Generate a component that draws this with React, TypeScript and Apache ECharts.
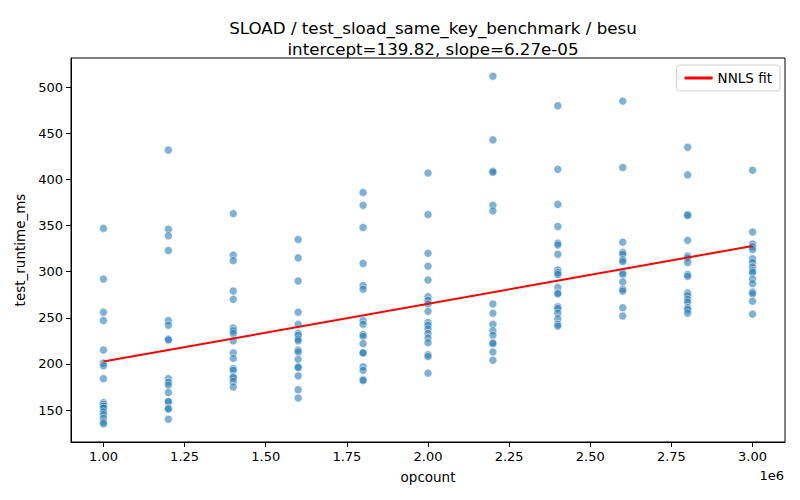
import React, { useEffect, useRef } from 'react';
import * as echarts from 'echarts';

// opcount values (x) and measured runtimes per opcount (y)
const opcounts = [1000000, 1200000, 1400000, 1600000, 1800000, 2000000, 2200000, 2400000, 2600000, 2800000, 3000000];

const runtimes1_0 = [347, 292, 256, 247, 215, 201, 198, 184, 158, 156, 154, 152, 148, 145, 141, 137, 135];
const runtimes1_2 = [432, 346, 339, 323, 247, 242, 227, 226, 184, 180, 177, 169, 159, 159, 152, 151, 140];
const runtimes1_4 = [363, 318, 312, 279, 270, 239, 236, 233, 225, 212, 206, 195, 193, 186, 185, 181, 175];
const runtimes1_6 = [335, 315, 290, 256, 243, 233, 231, 227, 225, 215, 213, 205, 197, 196, 187, 172, 163];
const runtimes1_8 = [386, 372, 348, 309, 285, 281, 247, 243, 232, 230, 222, 212, 212, 197, 193, 183, 182];
const runtimes2_0 = [407, 362, 320, 306, 291, 273, 269, 265, 257, 245, 242, 238, 233, 228, 223, 210, 208, 190];
const runtimes2_2 = [512, 443, 409, 408, 372, 366, 265, 255, 243, 236, 231, 223, 222, 213, 204];
const runtimes2_4 = [480, 411, 373, 349, 331, 329, 319, 302, 299, 297, 283, 277, 276, 262, 260, 255, 249, 243, 241];
const runtimes2_6 = [485, 413, 332, 321, 319, 313, 311, 299, 297, 289, 281, 279, 261, 252];
const runtimes2_8 = [435, 405, 362, 361, 334, 317, 315, 310, 297, 295, 277, 274, 270, 267, 261, 259, 255];
const runtimes3_0 = [410, 343, 330, 327, 324, 314, 310, 305, 301, 299, 292, 287, 278, 276, 268, 254];

const runtimesByOpcount = [
  runtimes1_0, runtimes1_2, runtimes1_4, runtimes1_6, runtimes1_8, runtimes2_0,
  runtimes2_2, runtimes2_4, runtimes2_6, runtimes2_8, runtimes3_0,
];

// NNLS fit from the title
const intercept = 139.82;
const slope = 6.27e-5;

const xTicks = [1000000, 1250000, 1500000, 1750000, 2000000, 2250000, 2500000, 2750000, 3000000];
const yTicks = [150, 200, 250, 300, 350, 400, 450, 500];

const FONT = 'DejaVu Sans';

const App: React.FC = () => {
  const chartRef = useRef<HTMLDivElement | null>(null);

  useEffect(() => {
    document.body.style.margin = '0';
    const chart = echarts.init(chartRef.current!, null, { renderer: 'svg' });

    const points: number[][] = [];
    opcounts.forEach((x, i) => {
      runtimesByOpcount[i].forEach((y) => points.push([x, y]));
    });
    const fitX = [opcounts[0], opcounts[opcounts.length - 1]];
    const fitLine = fitX.map((x) => [x, intercept + slope * x]);

    const option: echarts.EChartsOption = {
      animation: false,
      title: {
        text: 'SLOAD / test_sload_same_key_benchmark / besu\nintercept=139.82, slope=6.27e-05',
        left: 428,
        top: 12,
        textAlign: 'center',
        textStyle: {
          fontFamily: FONT,
          fontSize: 16.7,
          fontWeight: 'normal',
          color: '#000',
          lineHeight: 21,
        },
      },
      legend: {
        data: ['NNLS fit'],
        right: 20,
        top: 65,
        backgroundColor: '#fff',
        borderColor: '#d0d0d0',
        borderWidth: 1,
        borderRadius: 3,
        padding: [6, 8, 6, 8],
        itemWidth: 28,
        itemHeight: 3,
        icon: 'rect',
        textStyle: { fontFamily: FONT, fontSize: 13.5, color: '#000' },
      },
      grid: {
        left: 71,
        right: 15,
        top: 58,
        bottom: 58,
        show: true,
        borderColor: '#000',
        borderWidth: 1,
      },
      xAxis: {
        type: 'value',
        min: 900000,
        max: 3100000,
        name: 'opcount',
        nameLocation: 'middle',
        nameGap: 28,
        nameTextStyle: { fontFamily: FONT, fontSize: 13.5, color: '#000' },
        splitLine: { show: false },
        axisLine: { show: true, onZero: false, lineStyle: { color: '#000', width: 1 } },
        axisTick: { show: true, length: 5, lineStyle: { color: '#000' }, customValues: xTicks },
        axisLabel: {
          fontFamily: FONT,
          fontSize: 13,
          color: '#000',
          margin: 8,
          customValues: xTicks,
          formatter: (v: number) => (v / 1e6).toFixed(2),
        },
      },
      yAxis: {
        type: 'value',
        min: 115.3,
        max: 531.8,
        name: 'test_runtime_ms',
        nameLocation: 'middle',
        nameGap: 42,
        nameRotate: 90,
        nameTextStyle: { fontFamily: FONT, fontSize: 13.5, color: '#000' },
        splitLine: { show: false },
        axisLine: { show: true, onZero: false, lineStyle: { color: '#000', width: 1 } },
        axisTick: { show: true, length: 5, lineStyle: { color: '#000' }, customValues: yTicks },
        axisLabel: {
          fontFamily: FONT,
          fontSize: 13,
          color: '#000',
          margin: 8,
          customValues: yTicks,
        },
      },
      graphic: [
        {
          type: 'text',
          right: 16,
          top: 469,
          style: { text: '1e6', font: `13px "${FONT}"`, fill: '#000' },
        },
      ],
      series: [
        {
          type: 'scatter',
          data: points,
          symbolSize: 8,
          itemStyle: {
            color: 'rgba(31,119,180,0.72)',
            borderColor: '#fff',
            borderWidth: 0.6,
          },
          z: 2,
        },
        {
          name: 'NNLS fit',
          type: 'line',
          data: fitLine,
          showSymbol: false,
          lineStyle: { color: '#ff0000', width: 2 },
          itemStyle: { color: '#ff0000' },
          z: 3,
        },
      ],
    };

    chart.setOption(option);
    return () => {
      chart.dispose();
    };
  }, []);

  return <div ref={chartRef} style={{ width: 800, height: 500 }} />;
};

export default App;
